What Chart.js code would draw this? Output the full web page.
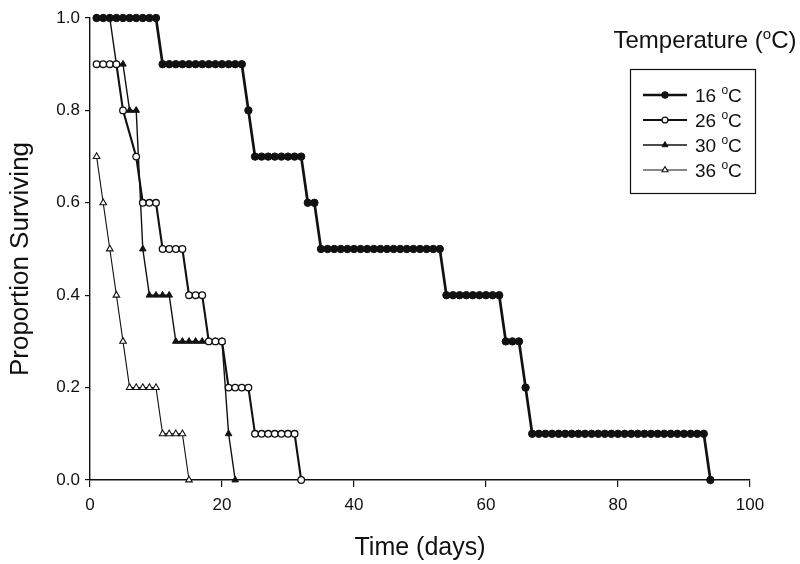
<!DOCTYPE html>
<html><head><meta charset="utf-8">
<script src="https://cdn.jsdelivr.net/npm/chart.js@4.4.1/dist/chart.umd.min.js"></script>
<style>html,body{margin:0;padding:0;background:#fff;}canvas{display:block;}</style>
</head><body>
<canvas id="c" width="800" height="564"></canvas>
<script>
// ---- data ----
const seriesNames = ['16', '26', '30', '36'];
const days16 = [1,2,3,4,5,6,7,8,9,10,11,12,13,14,15,16,17,18,19,20,21,22,23,24,25,26,27,28,29,30,31,32,33,34,35,36,37,38,39,40,41,42,43,44,45,46,47,48,49,50,51,52,53,54,55,56,57,58,59,60,61,62,63,64,65,66,67,68,69,70,71,72,73,74,75,76,77,78,79,80,81,82,83,84,85,86,87,88,89,90,91,92,93,94];
const surv16 = [1.0,1.0,1.0,1.0,1.0,1.0,1.0,1.0,1.0,1.0,
  0.9,0.9,0.9,0.9,0.9,0.9,0.9,0.9,0.9,0.9,0.9,0.9,0.9,
  0.8,
  0.7,0.7,0.7,0.7,0.7,0.7,0.7,0.7,
  0.6,0.6,
  0.5,0.5,0.5,0.5,0.5,0.5,0.5,0.5,0.5,0.5,0.5,0.5,0.5,0.5,0.5,0.5,0.5,0.5,0.5,
  0.4,0.4,0.4,0.4,0.4,0.4,0.4,0.4,0.4,
  0.3,0.3,0.3,
  0.2,
  0.1,0.1,0.1,0.1,0.1,0.1,0.1,0.1,0.1,0.1,0.1,0.1,0.1,0.1,0.1,0.1,0.1,0.1,0.1,0.1,0.1,0.1,0.1,0.1,0.1,0.1,0.1,
  0.0];
const days26 = [1,2,3,4,5,7,8,9,10,11,12,13,14,15,16,17,18,19,20,21,22,23,24,25,26,27,28,29,30,31,32];
const surv26 = [0.9,0.9,0.9,0.9,0.8,0.7,0.6,0.6,0.6,0.5,0.5,0.5,0.5,0.4,0.4,0.4,0.3,0.3,0.3,0.2,0.2,0.2,0.2,0.1,0.1,0.1,0.1,0.1,0.1,0.1,0.0];
const days30 = [1,2,3,4,5,6,7,8,9,10,11,12,13,14,15,16,17,18,19,20,21,22];
const surv30 = [1.0,1.0,1.0,0.9,0.9,0.8,0.8,0.5,0.4,0.4,0.4,0.4,0.3,0.3,0.3,0.3,0.3,0.3,0.3,0.3,0.1,0.0];
const days36 = [1,2,3,4,5,6,7,8,9,10,11,12,13,14,15];
const surv36 = [0.7,0.6,0.5,0.4,0.3,0.2,0.2,0.2,0.2,0.2,0.1,0.1,0.1,0.1,0.0];
const xTicks = [0,20,40,60,80,100];
const yTicks = [0.0,0.2,0.4,0.6,0.8,1.0];
const xTitle = 'Time (days)';
const yTitle = 'Proportion Surviving';
const legendTitle = ['Temperature (', 'o', 'C)'];
const unitParts = [' ', 'o', 'C'];

const FAM = '"Liberation Sans", Arial, Helvetica, sans-serif';
const INK = '#111';

function pts(d, v) { return d.map((x, i) => ({x: x, y: v[i]})); }

const datasets = [
  {label: seriesNames[0], data: pts(days16, surv16), borderColor: INK, borderWidth: 2.7,
   pointStyle: 'circle', pointRadius: 3.7, pointBackgroundColor: INK, pointBorderColor: INK, pointBorderWidth: 1},
  {label: seriesNames[1], data: pts(days26, surv26), borderColor: INK, borderWidth: 2.1,
   pointStyle: 'circle', pointRadius: 3.3, pointBackgroundColor: '#fff', pointBorderColor: INK, pointBorderWidth: 1.3},
  {label: seriesNames[2], data: pts(days30, surv30), borderColor: INK, borderWidth: 1.4,
   pointStyle: 'triangle', pointRadius: 3.8, pointBackgroundColor: INK, pointBorderColor: INK, pointBorderWidth: 1},
  {label: seriesNames[3], data: pts(days36, surv36), borderColor: INK, borderWidth: 1.1,
   pointStyle: 'triangle', pointRadius: 3.8, pointBackgroundColor: '#fff', pointBorderColor: INK, pointBorderWidth: 1.1}
];
datasets.forEach(d => { d.fill = false; d.tension = 0; d.clip = 12; d.pointHoverRadius = d.pointRadius; });

function drawMarker(ctx, style, r, x, y) {
  ctx.beginPath();
  if (style === 'triangle') {
    let rad = 0;
    ctx.moveTo(x + Math.sin(rad) * r, y - Math.cos(rad) * r);
    rad += 2 * Math.PI / 3;
    ctx.lineTo(x + Math.sin(rad) * r, y - Math.cos(rad) * r);
    rad += 2 * Math.PI / 3;
    ctx.lineTo(x + Math.sin(rad) * r, y - Math.cos(rad) * r);
    ctx.closePath();
  } else {
    ctx.arc(x, y, r, 0, Math.PI * 2);
  }
  ctx.fill();
  ctx.stroke();
}

const legendPlugin = {
  id: 'boxLegend',
  afterDraw(chart) {
    const ctx = chart.ctx;
    ctx.save();
    ctx.fillStyle = INK;
    ctx.textBaseline = 'alphabetic';
    ctx.textAlign = 'left';
    // y axis title (drawn here so it can sit where the reference puts it)
    ctx.save();
    ctx.translate(21, 259);
    ctx.rotate(-Math.PI / 2);
    ctx.font = '26px ' + FAM;
    ctx.textAlign = 'center';
    ctx.textBaseline = 'middle';
    ctx.fillText(yTitle, 0, 0);
    ctx.restore();
    // legend title with superscript o
    const big = '24px ' + FAM, sup = '15px ' + FAM;
    ctx.font = big;
    const w1 = ctx.measureText(legendTitle[0]).width;
    const w3 = ctx.measureText(legendTitle[2]).width;
    ctx.font = sup;
    const w2 = ctx.measureText(legendTitle[1]).width;
    let x = 705 - (w1 + w2 + w3) / 2;
    const by = 48;
    ctx.font = big; ctx.fillText(legendTitle[0], x, by); x += w1;
    ctx.font = sup; ctx.fillText(legendTitle[1], x, by - 9); x += w2;
    ctx.font = big; ctx.fillText(legendTitle[2], x, by);
    // box
    ctx.strokeStyle = INK;
    ctx.lineWidth = 1.2;
    ctx.strokeRect(630.5, 69.5, 125, 124);
    // entries
    chart.data.datasets.forEach((ds, i) => {
      const y = 95 + i * 25;
      ctx.beginPath();
      ctx.moveTo(643, y); ctx.lineTo(687, y);
      ctx.lineWidth = ds.borderWidth; ctx.strokeStyle = ds.borderColor;
      ctx.stroke();
      ctx.fillStyle = ds.pointBackgroundColor;
      ctx.strokeStyle = ds.pointBorderColor;
      ctx.lineWidth = ds.pointBorderWidth;
      drawMarker(ctx, ds.pointStyle, ds.pointRadius * 0.9, 665, y);
      ctx.fillStyle = INK;
      const lf = '19px ' + FAM, sf = '12px ' + FAM;
      let tx = 695;
      const tb = y + 7;
      ctx.font = lf; ctx.fillText(ds.label + unitParts[0], tx, tb);
      tx += ctx.measureText(ds.label + unitParts[0]).width;
      ctx.font = sf; ctx.fillText(unitParts[1], tx, tb - 8);
      tx += ctx.measureText(unitParts[1]).width;
      ctx.font = lf; ctx.fillText(unitParts[2], tx, tb);
    });
    ctx.restore();
  }
};

new Chart(document.getElementById('c'), {
  type: 'line',
  data: {datasets: datasets},
  plugins: [legendPlugin],
  options: {
    responsive: false,
    animation: false,
    events: [],
    layout: {padding: {left: 0, right: 50, top: 18, bottom: 0}},
    plugins: {legend: {display: false}, tooltip: {enabled: false}, title: {display: false}},
    scales: {
      x: {
        type: 'linear', min: 0, max: 100,
        afterBuildTicks: s => { s.ticks = xTicks.map(v => ({value: v})); },
        afterFit: s => { s.height = 84; },
        grid: {display: true, drawOnChartArea: false, drawTicks: true, tickLength: 7, color: INK, lineWidth: 1.2},
        border: {display: true, color: INK, width: 1.4},
        ticks: {color: INK, font: {family: FAM, size: 17}, padding: 8, maxRotation: 0, autoSkip: false},
        title: {display: true, text: xTitle, color: INK, font: {family: FAM, size: 25}, padding: {top: 0, bottom: 1}}
      },
      y: {
        type: 'linear', min: 0, max: 1,
        afterBuildTicks: s => { s.ticks = yTicks.map(v => ({value: v})); },
        afterFit: s => { s.width = 90; },
        grid: {display: true, drawOnChartArea: false, drawTicks: true, tickLength: 5, color: INK, lineWidth: 1.2},
        border: {display: true, color: INK, width: 1.4},
        ticks: {color: INK, font: {family: FAM, size: 17}, padding: 5, autoSkip: false,
                callback: v => Number(v).toFixed(1)},
        title: {display: false}
      }
    }
  }
});
</script>
</body></html>
